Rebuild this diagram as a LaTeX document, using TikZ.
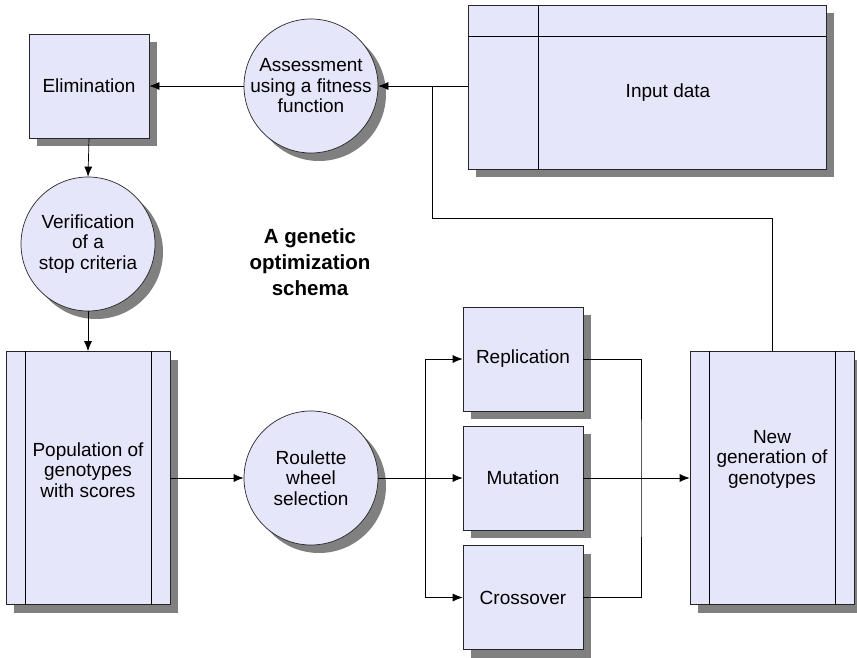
\documentclass[tikz,border=0pt]{standalone}
\usepackage{fontspec}
\setmainfont{Liberation Sans}
\usepackage{tikz}
\usetikzlibrary{shadows,arrows.meta}
\tikzset{>={Latex[length=10pt,width=8pt]}}
\definecolor{boxfill}{RGB}{230,230,250}
\definecolor{shade}{RGB}{128,128,128}
\tikzset{
  dshadow/.style={drop shadow={shadow xshift=8pt,shadow yshift=-8pt,fill=shade,opacity=1}},
  block/.style={rectangle, draw=black!85, line width=0.7pt, fill=boxfill, dshadow,
    minimum width=120pt, minimum height=104pt, inner sep=0pt, align=center},
  roundstep/.style={circle, draw=black!85, line width=0.7pt, fill=boxfill, dshadow,
    minimum size=134pt, inner sep=0pt, align=center},
  store/.style={rectangle, draw=black!85, line width=0.7pt, fill=boxfill, dshadow,
    minimum width=164pt, minimum height=253pt, inner sep=0pt},
  flow/.style={line width=0.7pt},
}

\begin{document}
\begin{tikzpicture}[x=1pt,y=-1pt,font=\fontsize{19}{20.5}\selectfont]

\useasboundingbox (0,0) rectangle (857,658);

% upper row
\node[block] (elim) at (89,86) {Elimination};
\node[roundstep] (assess) at (311,86) {Assessment\\using a fitness\\function};
\node[rectangle, draw=black!85, line width=0.7pt, fill=boxfill, dshadow,
  minimum width=358pt, minimum height=164pt, inner sep=0pt] (input) at (647,87) {};
\draw[flow] ([xshift=71pt]input.north west) -- ([xshift=71pt]input.south west);
\draw[flow] ([yshift=-32pt]input.north west) -- ([yshift=-32pt]input.north east);
\node (inputtxt) at (668,93) {Input data};

\node[roundstep] (verif) at (88,244) {Verification\\of a\\stop criteria};

\node[align=center, font=\fontsize{20.5}{26}\selectfont\bfseries] (title) at (310,262)
  {A genetic\\optimization\\schema};

% lower row
\node[store] (pop) at (88,478) {};
\draw[flow] ([xshift=20pt]pop.north west) -- ([xshift=20pt]pop.south west);
\draw[flow] ([xshift=-19pt]pop.north east) -- ([xshift=-19pt]pop.south east);
\node[align=center] (poptxt) at ([yshift=8pt]pop.center) {Population of\\genotypes\\with scores};

\node[roundstep] (roul) at (311,478) {Roulette\\wheel\\selection};

\node[block] (repl) at (523,359) {Replication};
\node[block] (mut) at (523,478) {Mutation};
\node[block] (cross) at (523,597.5) {Crossover};

\node[store] (newgen) at (772,478) {};
\draw[flow] ([xshift=20pt]newgen.north west) -- ([xshift=20pt]newgen.south west);
\draw[flow] ([xshift=-19pt]newgen.north east) -- ([xshift=-19pt]newgen.south east);
\node[align=center] (ngtxt) at ([yshift=19pt]newgen.center) {New\\generation of\\genotypes};

% connectors
\coordinate (junc) at (432,86);
\coordinate (fb) at (772,218);
\coordinate (split) at (425,478);
\coordinate (merge) at (641,478);

\draw[flow] (junc -| input.west) -- (junc);
\draw[flow,->] (junc) -- (assess.east);
\draw[flow] (junc) |- (fb) -- (newgen.north);
\draw[flow,->] (assess.west) -- (elim.east);
\draw[flow,->] (elim.south) -- (verif.north);
\draw[flow,->] (verif.south) -- (pop.north);
\draw[flow,->] (pop.east) -- (roul.west);
\draw[flow] (roul.east) -- (split);
\draw[flow,->] (split) |- (repl.west);
\draw[flow,->] (split) -- (mut.west);
\draw[flow,->] (split) |- (cross.west);
\draw[flow] (repl.east) -| (merge) |- (cross.east);
\draw[flow,->] (mut.east) -- (newgen.west);

\end{tikzpicture}
\end{document}
